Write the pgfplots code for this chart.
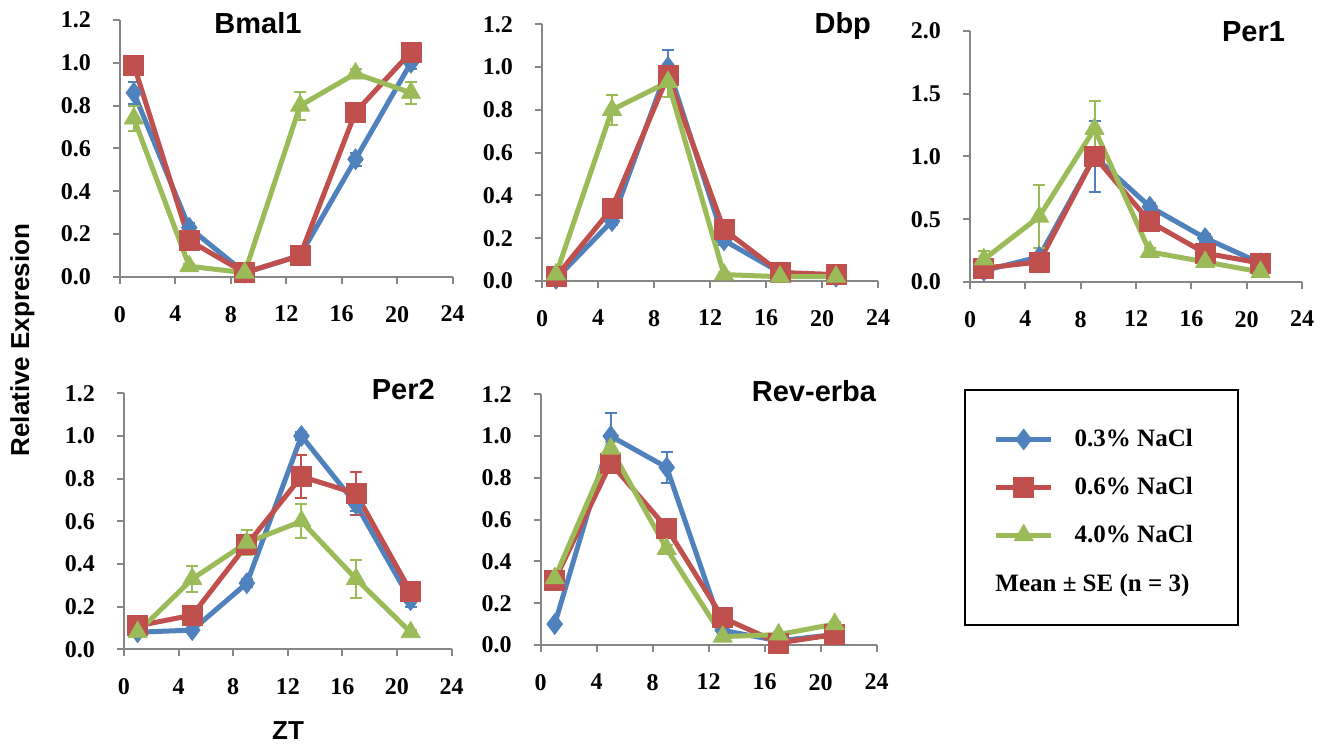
\documentclass[border=0pt]{standalone}
\usepackage{fontspec}
\setmainfont{Liberation Serif}
\setsansfont{Liberation Sans}
\usepackage{pgfplots}
\usepackage{pgfplotstable}
\pgfplotsset{compat=1.18}
\definecolor{cB}{HTML}{4F81BD}
\definecolor{cR}{HTML}{C0504D}
\definecolor{cG}{HTML}{9BBB59}
\definecolor{axgray}{HTML}{868686}

% columns: ZT, 0.3% mean/se, 0.6% mean/se, 4.0% mean/se
\pgfplotstableread{
zt b be r re g ge
1 0.86 0.05 0.99 0.03 0.74 0.06
5 0.23 0.02 0.17 0.02 0.05 0.01
9 0.02 0.01 0.02 0.01 0.02 0.01
13 0.10 0.01 0.10 0.01 0.80 0.065
17 0.55 0.03 0.77 0.03 0.95 0.02
21 1.00 0.03 1.05 0.03 0.86 0.05
}\bmal
\pgfplotstableread{
zt b be r re g ge
1 0.01 0.01 0.02 0.01 0.03 0.01
5 0.28 0.02 0.34 0.02 0.80 0.07
9 1.00 0.08 0.96 0.03 0.93 0.07
13 0.19 0.02 0.24 0.02 0.03 0.01
17 0.04 0.01 0.04 0.01 0.02 0.01
21 0.02 0.01 0.03 0.01 0.02 0.01
}\dbp
\pgfplotstableread{
zt b be r re g ge
1 0.09 0.02 0.11 0.02 0.18 0.07
5 0.20 0.03 0.16 0.03 0.52 0.25
9 1.00 0.28 1.00 0.05 1.22 0.22
13 0.60 0.03 0.48 0.04 0.24 0.03
17 0.35 0.03 0.23 0.03 0.16 0.02
21 0.15 0.02 0.15 0.02 0.08 0.02
}\perone
\pgfplotstableread{
zt b be r re g ge
1 0.08 0.01 0.11 0.01 0.08 0.01
5 0.09 0.01 0.16 0.02 0.33 0.06
9 0.31 0.02 0.49 0.03 0.50 0.06
13 1.00 0.02 0.81 0.10 0.60 0.08
17 0.68 0.03 0.73 0.10 0.33 0.09
21 0.23 0.03 0.27 0.03 0.08 0.01
}\pertwo
\pgfplotstableread{
zt b be r re g ge
1 0.10 0.01 0.31 0.02 0.32 0.02
5 1.00 0.11 0.87 0.03 0.94 0.03
9 0.85 0.075 0.56 0.03 0.46 0.02
13 0.07 0.01 0.13 0.02 0.04 0.01
17 0.02 0.01 0.01 0.01 0.05 0.01
21 0.05 0.01 0.05 0.01 0.10 0.01
}\reverb

\pgfplotsset{
  panel/.style={
    anchor=south west, scale only axis, clip=false,
    xmin=0, xmax=24, xtick={0,4,8,12,16,20,24},
    ymin=0,
    axis x line*=bottom, axis y line*=left,
    axis line style={axgray, line width=1pt, -},
    tick align=outside, major tick length=3.5pt,
    tick style={axgray, line width=1pt},
    ticklabel style={font=\bfseries\fontsize{12}{14}\selectfont},
    /pgf/number format/assume math mode=true,
    yticklabel style={xshift=-7.5pt, /pgf/number format/.cd, fixed, fixed zerofill, precision=1},
    xticklabel style={yshift=-7.5pt},
    legend image code/.code={\draw[mark repeat=2,mark phase=2] plot coordinates {(0pt,0pt) (13.75pt,0pt) (27.5pt,0pt)};
      \path (36pt,0pt);},
  },
  sB/.style={color=cB, line width=2.5pt, line join=round, mark=diamond*, mark size=5.2pt,
    mark options={solid, line width=0.4pt},
    error bars/.cd, y dir=both, y explicit, error bar style={line width=1pt, cB},
    error mark options={rotate=90, line width=1pt, mark size=3pt, cB}},
  sR/.style={color=cR, line width=2.5pt, line join=round, mark=square*, mark size=5pt,
    mark options={solid, line width=0.4pt},
    error bars/.cd, y dir=both, y explicit, error bar style={line width=1pt, cR},
    error mark options={rotate=90, line width=1pt, mark size=3pt, cR}},
  sG/.style={color=cG, line width=2.5pt, line join=round, mark=triangle*, mark size=5.5pt,
    mark options={solid, line width=0.4pt},
    error bars/.cd, y dir=both, y explicit, error bar style={line width=1pt, cG},
    error mark options={rotate=90, line width=1pt, mark size=3pt, cG}},
}
\newcommand{\gtitle}{\sffamily\bfseries\fontsize{14.5}{16}\selectfont}

\begin{document}
\begin{tikzpicture}
\path (0,0) rectangle (664pt,373pt);

% Bmal1
\begin{axis}[panel, at={(60pt,234.5pt)}, width=166.25pt, height=128.5pt,
  ymax=1.2, ytick={0,0.2,0.4,0.6,0.8,1.0,1.2}]
\addplot[sB] table[x=zt, y=b, y error=be] {\bmal};
\addplot[sR] table[x=zt, y=r, y error=re] {\bmal};
\addplot[sG] table[x=zt, y=g, y error=ge] {\bmal};
\node[anchor=base, font=\gtitle] at (rel axis cs:0.415,0.949) {Bmal1};
\end{axis}

% Dbp
\begin{axis}[panel, at={(271pt,232.5pt)}, width=168pt, height=128.35pt,
  ymax=1.2, ytick={0,0.2,0.4,0.6,0.8,1.0,1.2}]
\addplot[sB] table[x=zt, y=b, y error=be] {\dbp};
\addplot[sR] table[x=zt, y=r, y error=re] {\dbp};
\addplot[sG] table[x=zt, y=g, y error=ge] {\dbp};
\node[anchor=base east, font=\gtitle] at (rel axis cs:1.0,0.966) {Dbp};
\end{axis}

% Per1
\begin{axis}[panel, at={(485pt,232pt)}, width=166pt, height=125.5pt,
  ymax=2.0, ytick={0,0.5,1.0,1.5,2.0}]
\addplot[sB] table[x=zt, y=b, y error=be] {\perone};
\addplot[sR] table[x=zt, y=r, y error=re] {\perone};
\addplot[sG] table[x=zt, y=g, y error=ge] {\perone};
\node[anchor=base east, font=\gtitle] at (rel axis cs:0.97,0.960) {Per1};
\end{axis}

% Per2
\begin{axis}[panel, at={(62pt,48.35pt)}, width=163.8pt, height=128pt,
  ymax=1.2, ytick={0,0.2,0.4,0.6,0.8,1.0,1.2}]
\addplot[sB] table[x=zt, y=b, y error=be] {\pertwo};
\addplot[sR] table[x=zt, y=r, y error=re] {\pertwo};
\addplot[sG] table[x=zt, y=g, y error=ge] {\pertwo};
\node[anchor=base east, font=\gtitle] at (rel axis cs:0.97,0.974) {Per2};
\end{axis}

% Rev-erba
\begin{axis}[panel, at={(270.35pt,50.5pt)}, width=168pt, height=125.35pt,
  ymax=1.2, ytick={0,0.2,0.4,0.6,0.8,1.0,1.2},
  legend cell align=left,
  legend style={at={(axis description cs:1.347,0.878)}, anchor=north west,
    draw=none, fill=none, inner sep=0pt, row sep=9.8pt,
    font=\bfseries\fontsize{12.5}{14}\selectfont}]
\addplot[sB] table[x=zt, y=b, y error=be] {\reverb};
\addplot[sR] table[x=zt, y=r, y error=re] {\reverb};
\addplot[sG] table[x=zt, y=g, y error=ge] {\reverb};
\legend{0.3\% NaCl, 0.6\% NaCl, 4.0\% NaCl}
\node[anchor=base east, font=\gtitle] at (rel axis cs:1.019,0.970) {Rev-erba};
\end{axis}

\draw[line width=0.8pt] (482.5pt,60.5pt) rectangle (619pt,178pt);
\node[anchor=base west, inner sep=0pt, font=\bfseries\fontsize{12.5}{14}\selectfont] at (497.5pt,77pt) {Mean ± SE (n = 3)};
\node[rotate=90, font=\sffamily\bfseries\fontsize{13}{15}\selectfont] at (11.25pt,203pt) {Relative Expresion};
\node[font=\sffamily\bfseries\fontsize{13}{15}\selectfont] at (144pt,7.5pt) {ZT};
\end{tikzpicture}
\end{document}
